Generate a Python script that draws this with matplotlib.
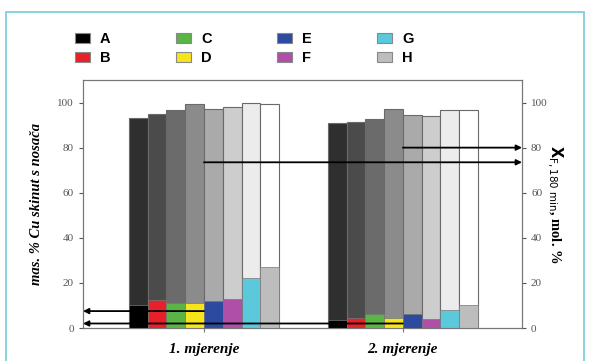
import numpy as np
import matplotlib.pyplot as plt
from matplotlib.patches import Patch, Rectangle

# ---- data ----
samples = ['A', 'B', 'C', 'D', 'E', 'F', 'G', 'H']
groups = ['1. mjerenje', '2. mjerenje']

# conversion X_F (right axis) - gray bars behind
conv_1 = [93, 95, 96.5, 99.5, 97, 98, 100, 99.5]
conv_2 = [91, 91.5, 92.5, 97, 94.5, 94, 96.5, 96.5]

# mass % Cu removed (left axis) - colored bars in front
cu_1 = [10, 12.5, 11, 11, 12, 13, 22, 27]
cu_2 = [3.5, 4.5, 6, 4.5, 6, 4, 8, 10]

# averages marked with arrows
cu_mean = [7.5, 2]
conv_mean = [73.5, 80]

gray_colors = ['#2f2f2f', '#4b4b4b', '#6b6b6b', '#8b8b8b', '#aaaaaa', '#cdcdcd', '#ececec', '#ffffff']
sample_colors = ['#000000', '#e8202a', '#5ab546', '#f5e51a', '#2b4aa0', '#b04fa8', '#5bc8dc', '#bdbdbd']

# ---- figure ----
fig = plt.figure(figsize=(5.89, 3.61), dpi=100)
fig.patches.append(Rectangle((6 / 589, -0.05), 578 / 589, 1 - 12 / 361 + 0.05,
                             transform=fig.transFigure, fill=False,
                             edgecolor='#7fd0dc', lw=1.3))

ax = fig.add_axes([83 / 589, 1 - 328 / 361, 439 / 589, 248 / 361])
ax2 = ax.twinx()

x1 = np.arange(8)
x2 = np.arange(8) + 10.6
centers = [x1.mean(), x2.mean()]

for xs, conv, cu in [(x1, conv_1, cu_1), (x2, conv_2, cu_2)]:
    ax.bar(xs, conv, width=1.0, color=gray_colors, edgecolor='#6a6a6a', lw=0.8, zorder=2)
    ax.bar(xs, cu, width=1.0, color=sample_colors, edgecolor='#777777', lw=0.5, zorder=3)

ax.set_xlim(-2.95, 20.45)
ax.set_ylim(0, 110)
ax2.set_ylim(0, 110)

ax.set_xticks(centers)
ax.set_xticklabels(groups, fontfamily='Liberation Serif', fontweight='bold',
                   fontstyle='italic', fontsize=11)
ax.set_yticks(range(0, 101, 20))
ax2.set_yticks(range(0, 101, 20))
for a in (ax, ax2):
    a.tick_params(axis='y', labelsize=8, colors='#555555', length=3)
    for lab in a.get_yticklabels():
        lab.set_fontfamily('Liberation Serif')
    for s in a.spines.values():
        s.set_color('#777777')
ax.tick_params(axis='x', length=3, color='#777777', pad=8)

ax.set_ylabel('mas. % Cu skinut s nosača', fontfamily='Liberation Serif',
              fontweight='bold', fontstyle='italic', fontsize=10.5, labelpad=10)
ax2.set_ylabel(r'$\mathbf{X}_{\mathrm{F,180\ min}}$, mol. %', fontfamily='Liberation Serif',
               fontweight='bold', fontsize=10.5, rotation=270, labelpad=12)

# arrows to the left axis
for c, m in zip(centers, cu_mean):
    ax.annotate('', xy=(0, m), xycoords=ax.get_yaxis_transform(),
                xytext=(c, m), textcoords='data',
                arrowprops=dict(arrowstyle='-|>', color='black', lw=1.3,
                                mutation_scale=8, shrinkA=0, shrinkB=0), zorder=5)
# arrows to the right axis
for c, m in zip(centers, conv_mean):
    ax2.annotate('', xy=(1, m), xycoords=ax2.get_yaxis_transform(),
                 xytext=(c, m), textcoords='data',
                 arrowprops=dict(arrowstyle='-|>', color='black', lw=1.3,
                                 mutation_scale=8, shrinkA=0, shrinkB=0), zorder=5)

handles = [Patch(facecolor=c, edgecolor='#888888', lw=0.8) for c in sample_colors]
fig.legend(handles, samples, ncol=4, loc='upper left', bbox_to_anchor=(62 / 589, 1 - 19 / 361),
           frameon=False, handlelength=1.0, handleheight=0.6, handletextpad=0.7,
           columnspacing=4.5, labelspacing=0.35,
           prop=dict(family='Liberation Sans', weight='bold', size=10.5))

fig.savefig('out.png', dpi=100)
